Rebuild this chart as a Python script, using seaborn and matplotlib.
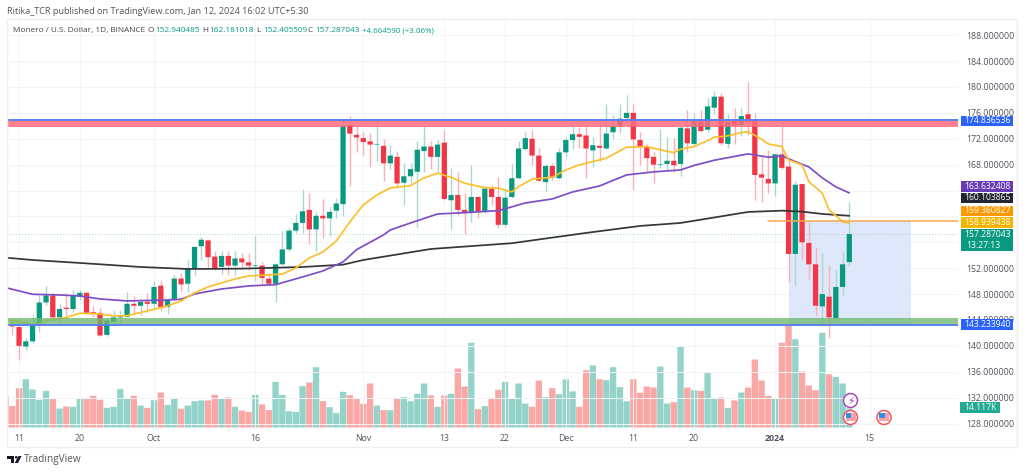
#!/usr/bin/env python
# XMR/USD daily chart, candles + moving averages + volume, tradingview look

import numpy as np
import pandas as pd
import seaborn as sns
import matplotlib.pyplot as plt
from matplotlib.patches import Circle, Polygon, Rectangle

# candles from Sep 10 2023 (day 0) to Jan 12 2024 (day 124)
opens = [143.4, 142.9, 139.9, 140.7, 143.2, 146.7, 147.8, 144.4, 145.9, 145.7, 147.6, 148.2, 145.2, 145.1, 141.7, 143.7, 144.4, 144.5, 146.5, 146.2, 146.8,
         146.5, 149.3, 146.0, 147.1, 150.4, 149.6, 151.9, 155.4, 156.3, 153.8, 152.2, 153.9, 152.4, 153.5, 152.9, 152.4, 152.4, 150.4, 149.6, 152.6, 154.9, 157.8, 159.0, 161.0, 158.0, 160.1, 159.7, 160.9, 161.9, 174.1, 172.6,
         172.1, 171.6, 171.1, 170.9, 168.2, 169.2, 165.2, 166.2, 166.9, 170.1, 170.8, 169.2, 171.4, 162.5, 163.3, 161.0, 160.7, 163.0, 160.7, 164.3, 163.0, 158.7, 163.0, 165.9, 170.4, 172.0, 169.4, 165.3, 167.8, 165.9,
         169.9, 171.8, 172.7, 172.5, 170.2, 170.9, 170.5, 173.0, 173.9, 175.2, 176.0, 171.8, 170.7, 169.2, 168.0, 168.1, 168.6, 168.1, 173.6, 171.2, 174.7, 173.4, 176.8, 178.5, 171.2, 174.8, 174.1, 175.8, 174.8, 166.5, 165.8,
         165.1, 169.6, 167.7, 154.2, 165.0, 155.9, 152.6, 146.1, 147.6, 144.3, 149.1, 152.940485]
highs = [144.0, 143.6, 141.2, 144.8, 147.9, 149.3, 148.2, 146.5, 148.2, 148.6, 148.6, 148.4, 146.1, 145.9, 144.3, 145.6, 145.6, 148.4, 147.7, 147.3, 148.1,
         150.0, 150.2, 147.4, 151.0, 151.3, 153.3, 155.3, 156.8, 156.5, 154.6, 154.6, 154.6, 154.6, 154.3, 154.4, 157.0, 153.0, 151.3, 152.8, 157.8, 158.2, 160.4, 164.3, 163.6, 160.7, 162.7, 161.5, 162.9, 174.9, 175.5, 173.9,
         173.0, 172.9, 175.1, 172.0, 171.1, 169.9, 168.3, 168.3, 171.6, 173.9, 171.6, 171.8, 173.4, 167.5, 166.9, 163.6, 168.0, 163.1, 164.6, 164.9, 166.1, 164.1, 168.1, 171.7, 173.1, 173.3, 170.5, 168.1, 168.2, 170.5,
         172.3, 173.9, 173.8, 174.4, 172.3, 174.4, 177.4, 175.7, 177.4, 178.8, 177.4, 173.1, 171.2, 170.0, 173.5, 172.3, 172.1, 174.0, 176.4, 176.0, 176.5, 178.3, 179.3, 179.1, 175.8, 176.7, 176.7, 180.8, 176.0, 169.4, 170.2,
         169.6, 173.9, 168.7, 165.4, 165.0, 159.2, 155.3, 154.4, 152.5, 151.7, 154.7, 162.181018]
lows = [141.7, 137.8, 139.3, 140.5, 142.2, 146.3, 144.0, 143.4, 144.3, 145.3, 147.1, 145.0, 144.5, 141.6, 141.5, 143.1, 143.4, 144.4, 145.1, 144.8, 145.2,
        145.9, 145.4, 144.9, 147.0, 148.3, 148.4, 151.0, 153.3, 152.0, 151.7, 151.1, 151.0, 151.0, 152.0, 151.7, 150.0, 149.4, 149.3, 146.8, 152.5, 154.6, 157.5, 157.5, 155.8, 154.6, 156.7, 156.9, 159.8, 160.1, 164.7, 170.0,
        169.5, 167.7, 168.6, 165.4, 167.3, 164.4, 161.8, 165.2, 158.3, 166.9, 167.3, 166.7, 162.5, 158.0, 160.2, 157.3, 159.2, 159.8, 160.6, 161.8, 158.2, 158.3, 162.8, 165.8, 170.3, 168.0, 165.4, 164.0, 165.6, 165.8,
        169.2, 170.4, 170.5, 165.9, 167.7, 168.5, 170.4, 171.9, 172.9, 175.0, 164.1, 168.0, 166.9, 165.1, 167.5, 167.2, 166.9, 166.3, 170.0, 171.1, 173.1, 173.1, 175.9, 171.1, 170.5, 171.2, 172.4, 172.6, 162.6, 162.3, 163.6,
        163.2, 167.3, 149.8, 149.4, 153.3, 150.3, 144.8, 143.3, 141.2, 143.7, 147.8, 152.405509]
closes = [143.0, 140.0, 140.7, 143.2, 146.7, 147.8, 144.4, 145.7, 145.7, 147.7, 148.2, 145.1, 145.0, 141.6, 143.9, 144.4, 144.6, 146.5, 146.2, 146.8, 146.5,
          149.1, 146.0, 147.1, 150.4, 149.5, 151.9, 155.3, 156.4, 153.7, 152.0, 153.9, 152.4, 153.5, 152.9, 152.4, 152.5, 150.5, 149.6, 152.6, 154.9, 157.8, 159.0, 160.8, 158.0, 160.1, 159.7, 160.7, 162.0, 174.0, 172.8, 172.2,
          171.5, 171.1, 171.2, 168.2, 169.4, 165.1, 166.2, 167.3, 170.3, 170.8, 169.2, 171.1, 162.7, 163.3, 161.0, 160.6, 163.0, 160.7, 164.3, 163.0, 158.7, 162.9, 165.9, 170.5, 172.1, 169.4, 165.5, 167.8, 166.0, 169.9,
          171.8, 172.7, 172.3, 170.5, 171.0, 170.6, 172.8, 174.0, 175.1, 176.0, 171.9, 170.7, 169.0, 168.0, 168.1, 168.6, 167.9, 173.7, 171.3, 174.8, 173.2, 177.0, 178.5, 171.3, 174.6, 174.1, 175.5, 174.6, 166.4, 166.0, 165.1,
          169.6, 167.5, 154.2, 164.9, 156.0, 152.6, 146.2, 148.0, 144.4, 149.1, 152.6, 157.287043]

# volume in thousands, first value is the Sep 9 bar cut by the left edge
volumes = [23.3, 15.9, 29.2, 35.9, 28.2, 20.6, 27.2, 21.1, 14.1, 15.6, 15.4, 21.8, 21.1, 23.5, 20.6, 14.6, 15.4, 28.5, 22.0, 23.5, 16.3, 14.6,
           20.3, 26.0, 16.8, 22.0, 13.9, 16.3, 19.6, 20.1, 20.1, 24.3, 21.8, 22.3, 15.4, 12.6, 11.6, 24.3, 17.1, 12.9, 33.9, 24.3, 12.1, 11.6, 30.7, 33.4, 44.8, 19.6, 15.1, 10.7, 26.5, 24.0, 21.1,
           17.6, 32.7, 16.3, 12.9, 12.9, 22.0, 22.5, 19.6, 25.0, 32.7, 23.8, 15.4, 23.8, 25.0, 43.8, 30.5, 62.9, 13.6, 15.9, 22.0, 28.0, 33.9, 21.3, 32.7, 17.8, 15.4, 34.9, 22.5, 29.2, 24.8,
           35.7, 26.8, 15.4, 42.6, 46.1, 35.9, 35.2, 44.8, 30.0, 19.6, 35.9, 25.8, 30.5, 29.7, 45.3, 17.8, 18.8, 60.4, 29.7, 27.7, 27.2, 40.6, 21.8, 22.3, 14.6, 20.1, 26.0, 29.7, 50.5, 34.9, 23.5,
           21.8, 62.9, 75.8, 65.6, 41.6, 31.2, 27.7, 70.3, 39.6, 37.6, 32.7, 14.117]

yellow_days = [-1, 2, 3, 4, 5, 8, 10, 13, 15, 17, 20, 23, 25, 27, 29, 33, 35, 38, 40, 42, 44, 46, 48, 50, 52, 54, 56, 59, 61, 63, 65, 67, 70, 72, 74, 75, 77, 80, 82, 84, 88, 91, 94, 96, 98, 99, 101, 103, 104, 106, 108, 109, 111, 112, 114, 115, 117, 118, 120, 121, 123, 124]
yellow_ma = [144.08, 143.54, 143.23, 143.38, 143.89, 144.39, 145.04, 144.93, 144.62, 144.67, 145.39, 146.17, 146.94, 148.18, 149.10, 150.34, 150.80, 150.96, 151.11, 152.04, 153.58, 154.51, 156.21, 159.15, 161.78, 163.32, 164.40, 164.76, 165.95, 166.67, 166.06, 165.13, 164.45, 164.36, 163.78, 164.60, 165.75, 166.06, 167.18, 167.96, 169.0, 170.69, 170.79, 170.28, 169.86, 170.38, 170.79, 171.71, 172.24, 172.44, 172.95, 173.10, 171.93, 171.20, 170.79, 168.73, 167.96, 165.38, 163.58, 161.0, 159.2, 158.94]
purple_days = [-1, 3, 7, 10, 13, 17, 23, 25, 27, 31, 35, 39, 43, 46, 49, 51, 55, 56, 59, 63, 67, 72, 74, 76, 80, 83, 87, 91, 95, 99, 101, 104, 109, 112, 114, 116, 118, 120, 122, 124]
purple_ma = [149.0, 147.97, 147.87, 147.71, 147.25, 146.94, 147.09, 147.2, 148.02, 148.79, 149.26, 149.46, 150.65, 151.57, 152.97, 154.87, 157.14, 157.91, 158.99, 160.38, 160.58, 160.89, 161.47, 162.08, 162.70, 163.78, 164.71, 166.41, 166.88, 167.18, 167.88, 168.68, 169.66, 169.15, 169.35, 168.47, 167.65, 165.95, 164.56, 163.63]
black_days = [-1, 3, 10, 19, 26, 34, 43, 49, 52, 62, 74, 85, 93, 99, 109, 114, 117, 120, 124]
black_ma = [153.63, 153.27, 152.81, 152.19, 151.88, 151.93, 152.19, 152.55, 153.27, 154.97, 155.86, 157.45, 158.53, 158.99, 160.69, 160.89, 160.74, 160.38, 160.10]

tick_days = [1, 10, 21, 36, 52, 64, 73, 82, 92, 101, 113, 127]
tick_labels = ["11", "20", "Oct", "16", "Nov", "13", "22", "Dec", "11", "20", "2024", "15"]
price_ticks = np.arange(128, 189, 4)
hidden_prices = [156, 160, 164]  # these sit under the value tags

UP = "#089981"
DOWN = "#f23645"
UP_WICK = "#a9d8cd"
DOWN_WICK = "#f9b0b6"
TXT = "#50535e"
W, H = 1024, 472
LEFT, RIGHT, TOP, BOTTOM = 7, 958, 19, 427.5

sns.set_theme(style="white")
plt.rcParams["font.family"] = ["Open Sans", "DejaVu Sans"]

candles = pd.DataFrame({"open": opens, "high": highs, "low": lows, "close": closes})
candles["day"] = np.arange(len(candles))
candles["base"] = candles[["open", "close"]].min(axis=1)
candles["body"] = (candles["open"] - candles["close"]).abs()
candles["up"] = candles["close"] >= candles["open"]

vol = pd.DataFrame({"day": np.arange(-1, len(candles)), "volume": volumes})
vol["side"] = ["down"] + ["up" if u else "down" for u in candles["up"]]

fig = plt.figure(figsize=(W / 100, H / 100), dpi=100, facecolor="white")
ax = fig.add_axes([LEFT / W, 1 - BOTTOM / H, (RIGHT - LEFT) / W, (BOTTOM - TOP) / H])
ax_vol = ax.twinx()

# volume sits behind the price pane
ax_vol.set_zorder(ax.get_zorder() - 1)
ax.patch.set_visible(False)
# each side on its own, the bar width comes out right that way
for side, col in [("up", "#93d3ca"), ("down", "#faa8a6")]:
    sns.barplot(data=vol[vol["side"] == side], x="day", y="volume", color=col, native_scale=True,
                width=0.94, saturation=1, errorbar=None, linewidth=0, ax=ax_vol)
ax_vol.set_ylim(0, 303.5)
ax_vol.axis("off")
# no pixel snapping, otherwise the gaps between bars come out uneven
for p in ax_vol.patches:
    p.set_snap(False)

# drawing tools
ax.fill_between([115.1, 133.2], 143.23, 159.36, color="#dfe7fb", lw=0, zorder=1)
ax.plot([112, 140.2], [159.36, 159.36], color="#f9a84d", lw=1.1, zorder=6)
ax.axhline(157.287, color="#9dd3c8", lw=0.7, ls=(0, (1, 2)), zorder=1)

# wicks then bodies
ax.vlines(candles["day"], candles["low"], candles["high"],
          colors=[UP_WICK if u else DOWN_WICK for u in candles["up"]], lw=1.0, zorder=2)
for is_up, col in [(True, UP), (False, DOWN)]:
    part = candles[candles["up"] == is_up]
    sns.barplot(data=part, x="day", y="body", bottom=part["base"].values, color=col, native_scale=True,
                width=0.78, saturation=1, errorbar=None, linewidth=0, zorder=3, ax=ax)
for p in ax.patches:
    p.set_snap(False)

for days, vals, col in [(black_days, black_ma, "#36363a"), (purple_days, purple_ma, "#7e4fc4"), (yellow_days, yellow_ma, "#fbc02d")]:
    sns.lineplot(x=days, y=vals, color=col, linewidth=1.25, estimator=None, zorder=4, ax=ax)

# zones
ax.axhspan(173.83, 174.76, color="#ff6b7b", alpha=0.85, lw=0, zorder=5)
ax.axhspan(143.34, 144.26, color="#6fb96f", alpha=0.78, lw=0, zorder=5)
ax.axhline(174.836536, color="#5b7ff2", lw=1.4, zorder=5)
ax.axhline(143.23394, color="#5b7ff2", lw=1.4, zorder=5)

ax.set_xlim(-0.785, 140.1)
ax.set_ylim(127.39, 190.5)
ax.set_xlabel("")
ax.set_ylabel("")
ax.yaxis.tick_right()
ax.set_yticks(price_ticks)
ax.set_yticklabels(["" if p in hidden_prices else f"{p:.6f}" for p in price_ticks], color=TXT, fontsize=6.3)
ax.set_xticks(tick_days)
ax.set_xticklabels(tick_labels, color=TXT, fontsize=6.3)
ax.get_xticklabels()[10].set_fontweight("bold")
ax.tick_params(axis="both", length=0)
ax.tick_params(axis="y", pad=5.8)
ax.tick_params(axis="x", pad=4.5)
ax.grid(True, color="#f3f4f6", lw=0.7)
ax.set_axisbelow(True)
sns.despine(ax=ax, left=True, right=True, top=True, bottom=True)

# everything around the chart in image pixels
over = fig.add_axes([0, 0, 1, 1], facecolor="none")
over.set_xlim(0, W)
over.set_ylim(H, 0)
over.axis("off")
over.add_patch(Rectangle((LEFT, TOP), 1017 - LEFT, 447 - TOP, fill=False, ec="#eeeff1", lw=1.0))

over.text(7, 11, "Ritika_TCR published on TradingView.com, Jan 12, 2024 16:02 UTC+5:30",
          color="#555", fontsize=6.6, va="center")
over.text(13, 30.5, "Monero / U.S. Dollar, 1D, BINANCE", color="#444", fontsize=5.95, va="center")
head = [(148, "O", "152.940485"), (202, "H", "162.181018"), (256, "L", "152.405509"), (308, "C", "157.287043")]
for x, letter, val in head:
    over.text(x, 30.5, letter, color="#444", fontsize=5.95, va="center")
    over.text(x + 6.8, 30.5, val, color=UP, fontsize=5.95, va="center")
over.text(362, 30.5, "+4.664590 (+3.06%)", color=UP, fontsize=5.8, va="center")

tags = [(115.7, 125.7, "#2962ff", "174.836536"), (181, 191.7, "#673ab7", "163.632408"),
        (192.7, 203, "#212530", "160.103865"), (206, 215.7, "#ff9800", "159.360827"),
        (216.7, 227.7, "#f7b500", "158.939438"), (319.3, 330, "#2962ff", "143.233940")]
for y0, y1, col, label in tags:
    over.add_patch(Rectangle((961, y0), 52, y1 - y0, color=col, lw=0))
    over.text(987, (y0 + y1) / 2, label, color="white", fontsize=6.2, ha="center", va="center")
over.add_patch(Rectangle((961, 229), 52, 21.7, color=UP, lw=0))
over.text(987, 234.5, "157.287043", color="white", fontsize=6.2, ha="center", va="center")
over.text(966, 245, "13:27:13", color="white", fontsize=6.2, va="center")
over.add_patch(Rectangle((960, 402), 40, 11.3, color="#22ab94", lw=0))
over.text(980, 407.7, "14.117K", color="white", fontsize=6.2, ha="center", va="center")

# event markers on the time line
over.add_patch(Circle((850.5, 400.5), 7, fc="white", ec="#ab47bc", lw=1.1))
over.text(850.5, 400.5, "\u26a1", color="#9c27b0", fontsize=7.5, ha="center", va="center", family="DejaVu Sans")
for cx in [850.5, 884]:
    over.add_patch(Circle((cx, 417.5), 7, fc="white", ec="#f7525f", lw=1.1))
    over.add_patch(Rectangle((cx - 5, 413), 10, 8, fc="#f7a0a8", lw=0))
    over.add_patch(Rectangle((cx - 5, 413), 5.5, 4.5, fc="#2f8fe8", lw=0))

# tradingview mark, bottom left
over.add_patch(Polygon([(7, 456), (14, 456), (14, 463), (10.5, 463), (10.5, 458.5), (7, 458.5)], fc="#131722", lw=0))
over.add_patch(Circle((16.2, 457.3), 1.3, fc="#131722", lw=0))
over.add_patch(Polygon([(18.5, 456), (21.5, 456), (18, 463), (14.8, 463)], fc="#131722", lw=0))
over.text(24, 459.5, "TradingView", color="#555", fontsize=7.2, va="center")

fig.savefig("out.png", dpi=100)
